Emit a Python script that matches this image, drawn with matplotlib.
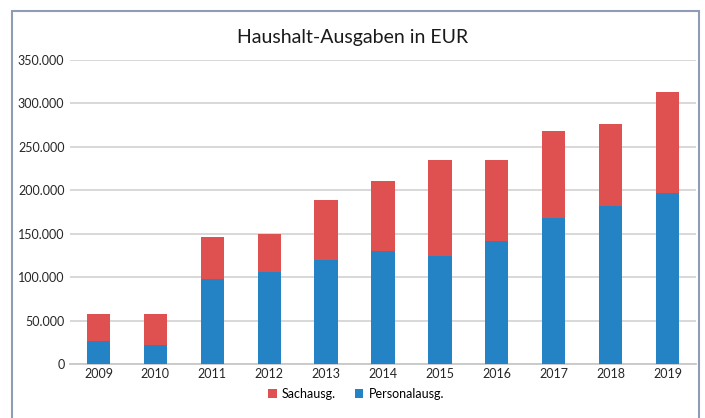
import matplotlib.pyplot as plt
import matplotlib.patches as patches
from matplotlib.ticker import FuncFormatter
import numpy as np

years = ['2009', '2010', '2011', '2012', '2013', '2014',
         '2015', '2016', '2017', '2018', '2019']
totals = [58100, 58000, 145800, 149300, 188600, 210500,
          234800, 234800, 268200, 276300, 313300]
personal = [26100, 22300, 97700, 105400, 119300, 130000,
            123900, 141600, 167800, 181600, 197000]
sach = [t - p for t, p in zip(totals, personal)]

RED = '#df5050'
BLUE = '#2383c4'

plt.rcParams['font.family'] = ['Lato', 'DejaVu Sans']

W, H = 705, 418
fig = plt.figure(figsize=(W / 100, H / 100), dpi=100)

# outer chart frame
fig.patches.append(patches.Rectangle(
    (11.5 / W, -0.05), (699 - 11.5) / W, 1.05 - 10.5 / H,
    transform=fig.transFigure, fill=False, edgecolor='#8e9cb6', linewidth=1.5))

ax = fig.add_axes([70 / W, 1 - 364 / H, (696 - 70) / W, (364 - 60) / H])
x = np.arange(len(years))
ax.bar(x, personal, width=0.41, color=BLUE, label='Personalausg.', zorder=3)
ax.bar(x, sach, width=0.41, bottom=personal, color=RED, label='Sachausg.', zorder=3)

ax.set_xlim(-0.5, len(years) - 0.5)
ax.set_ylim(0, 350000)
ax.set_yticks(np.arange(0, 350001, 50000))
ax.yaxis.set_major_formatter(FuncFormatter(
    lambda v, p: '0' if v == 0 else f'{int(v):,}'.replace(',', '.')))
ax.set_xticks(x)
ax.set_xticklabels(years)
ax.tick_params(axis='both', length=0, labelsize=9, colors='#262626', pad=4)
ax.tick_params(axis='x', pad=3)
ax.grid(axis='y', color='#d6d6d6', linewidth=1.3, zorder=0)
for s in ['top', 'right', 'left']:
    ax.spines[s].set_visible(False)
ax.spines['bottom'].set_color('#c8c8c8')
ax.spines['bottom'].set_linewidth(1.3)

fig.text(0.5, 1 - 37 / H, 'Haushalt-Ausgaben in EUR', ha='center', va='center',
         fontsize=14, color='#1a1a1a')

handles, labels = ax.get_legend_handles_labels()
ax.legend(handles[::-1], labels[::-1], loc='center', bbox_to_anchor=(356 / W, 1 - 394 / H),
          bbox_transform=fig.transFigure, ncol=2, frameon=False, fontsize=9,
          handlelength=0.7, handleheight=0.7, handletextpad=0.4, columnspacing=1.5)

fig.savefig('out.png', dpi=100)
